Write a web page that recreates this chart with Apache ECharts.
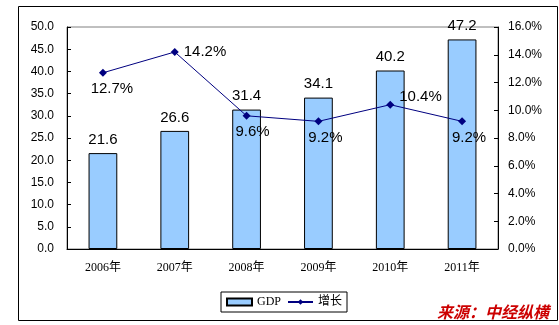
<!DOCTYPE html>
<html><head><meta charset="utf-8">
<script src="https://cdn.jsdelivr.net/npm/echarts@6/dist/echarts.min.js"></script>
<style>html,body{margin:0;padding:0;background:#fff}#c{width:559px;height:325px}</style>
</head><body><div id="c"></div>
<script>
const categories = ['2006年','2007年','2008年','2009年','2010年','2011年'];
const gdp = [21.6, 26.6, 31.4, 34.1, 40.2, 47.2];
const growth = [12.7, 14.2, 9.6, 9.2, 10.4, 9.2];
const growthLabelPos = ['bottom','right','bottom','bottom','right','bottom'];
const growthLabelOffset = [[9,0],[0,0],[6,0],[7,0],[0,-8],[7,0]];

const chart = echarts.init(document.getElementById('c'));
const F = 'Liberation Sans, Arial, sans-serif';
chart.setOption({
  animation: false,
  grid: { left: 67, right: 61, top: 27, bottom: 76, show: true, borderColor: '#808080', borderWidth: 1, backgroundColor: '#fff' },
  xAxis: {
    type: 'category', data: categories,
    axisLine: { lineStyle: { color: '#000' } },
    axisTick: { inside: true, length: 4, lineStyle: { color: '#000' } },
    axisLabel: { fontFamily: 'Liberation Serif, Noto Sans CJK SC, serif', fontSize: 12, color: '#000', margin: 13 }
  },
  yAxis: [
    { type: 'value', min: 0, max: 50, interval: 5, splitLine: { show: false },
      axisLine: { show: true, lineStyle: { color: '#000' } },
      axisTick: { show: true, inside: true, length: 4, lineStyle: { color: '#000' } },
      axisLabel: { fontFamily: F, fontSize: 12, color: '#000', margin: 13, formatter: v => v.toFixed(1) } },
    { type: 'value', min: 0, max: 16, interval: 2, splitLine: { show: false },
      axisLine: { show: true, lineStyle: { color: '#000' } },
      axisTick: { show: true, inside: true, length: 4, lineStyle: { color: '#000' } },
      axisLabel: { fontFamily: F, fontSize: 12, color: '#000', margin: 10, formatter: v => v.toFixed(1) + '%' } }
  ],
  legend: {
    top: 292, left: 221, itemGap: 6, itemWidth: 25, itemHeight: 7,
    padding: [4, 5, 4, 5], borderColor: '#000', borderWidth: 1, borderRadius: 0,
    textStyle: { fontFamily: 'Liberation Serif, Noto Sans CJK SC, serif', fontSize: 12, color: '#000' },
    data: [{ name: 'GDP', icon: 'rect' }, { name: '增长' }]
  },
  series: [
    { name: 'GDP', type: 'bar', data: gdp, barWidth: '40%', yAxisIndex: 0,
      itemStyle: { color: '#99CCFF', borderColor: '#000', borderWidth: 1 },
      label: { show: true, position: 'top', distance: 6, fontFamily: F, fontSize: 15, color: '#000', formatter: p => p.value.toFixed(1) } },
    { name: '增长', type: 'line', yAxisIndex: 1, symbol: 'diamond', symbolSize: 8,
      lineStyle: { color: '#000080', width: 1 }, itemStyle: { color: '#000080' },
      data: growth.map((v, i) => ({ value: v, label: { position: growthLabelPos[i], offset: growthLabelOffset[i] } })),
      label: { show: true, distance: 5, fontFamily: F, fontSize: 15, color: '#000', formatter: p => p.value.toFixed(1) + '%' } }
  ],
  graphic: [
    { type: 'rect', left: 16, top: 4, z: -10, shape: { width: 539, height: 314 }, style: { fill: 'none', stroke: '#000', lineWidth: 1 } },
    { type: 'text', left: 437, top: 304, style: { text: '来源：中经纵横', fill: '#CC0000', font: 'italic bold 16px "Noto Sans CJK SC", sans-serif' } }
  ]
});
</script></body></html>
